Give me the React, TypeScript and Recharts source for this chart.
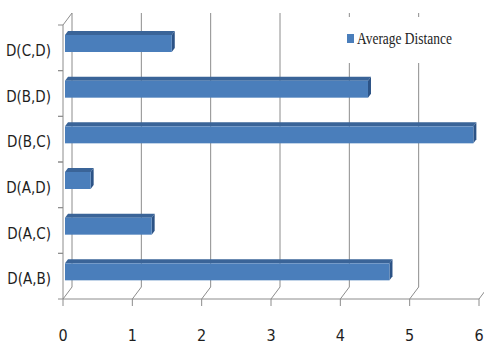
import React from 'react';
import { BarChart, Bar, XAxis, YAxis, CartesianGrid, Legend } from 'recharts';

// Pairwise distances, bottom to top on the category axis
const categories = ['D(A,B)', 'D(A,C)', 'D(A,D)', 'D(B,C)', 'D(B,D)', 'D(C,D)'];
const averageDistance = [4.68, 1.25, 0.37, 5.89, 4.37, 1.54];
const xTicks = [0, 1, 2, 3, 4, 5, 6];
const seriesName = 'Average Distance';

const data = categories.map((name, i) => ({ name, value: averageDistance[i] }));

// Layout of the front plane and the 3D depth offsets
const CHART_W = 484;
const CHART_H = 345;
const PLOT_LEFT = 63;
const PLOT_TOP = 25;
const PLOT_BOTTOM = 299;
const DEPTH_X = 9;
const DEPTH_Y = 12;
const BAR_DX = 2;
const BAR_DY = -4;
const TOP_DX = 3;
const TOP_DY = 4;
const BAND = (PLOT_BOTTOM - PLOT_TOP) / categories.length;

const FRONT = '#4a7ebb';
const TOP = '#3a6498';
const SIDE = '#2c5386';
const LINE = '#8c8c8c';
const TEXT = '#1e1e1e';
const SANS = "'Liberation Sans Narrow', 'DejaVu Sans Condensed', 'Liberation Sans', sans-serif";
const SERIF = "'Liberation Serif', 'DejaVu Serif', serif";

// Bar with a front face, a darker top face and a darker end cap
const Bar3D = (props: any) => {
  const { x, y, width, height } = props;
  if (width == null || height == null) return null;
  const fx = x + BAR_DX;
  const fy = y + BAR_DY;
  const ex = fx + width;
  return (
    <g>
      <polygon
        points={`${fx},${fy} ${ex},${fy} ${ex + TOP_DX},${fy - TOP_DY} ${fx + TOP_DX},${fy - TOP_DY}`}
        fill={TOP}
      />
      <polygon
        points={`${ex},${fy} ${ex + TOP_DX},${fy - TOP_DY} ${ex + TOP_DX},${fy + height - TOP_DY} ${ex},${fy + height}`}
        fill={SIDE}
      />
      <rect x={fx} y={fy} width={width} height={height} fill={FRONT} />
    </g>
  );
};

// Floor diagonal plus back-wall line for every value tick
const wallLine = (p: any) => {
  const { x1 } = p;
  return (
    <g key={p.key ?? `wall-${x1}`}>
      <line x1={x1} y1={PLOT_BOTTOM} x2={x1 + DEPTH_X} y2={PLOT_BOTTOM - DEPTH_Y} stroke={LINE} strokeWidth={1} />
      <line
        x1={x1 + DEPTH_X}
        y1={PLOT_BOTTOM - DEPTH_Y}
        x2={x1 + DEPTH_X}
        y2={PLOT_TOP - DEPTH_Y}
        stroke={LINE}
        strokeWidth={1}
      />
      {Math.abs(x1 - PLOT_LEFT) < 1 && (
        <line x1={x1} y1={PLOT_TOP} x2={x1 + DEPTH_X} y2={PLOT_TOP - DEPTH_Y} stroke={LINE} strokeWidth={1} />
      )}
    </g>
  );
};

const XTick = (p: any) => (
  <text x={p.x} y={341} textAnchor="middle" fontFamily={SANS} fontSize={16} fill={TEXT}>
    {p.payload.value}
  </text>
);

const YTick = (p: any) => {
  const { y, payload } = p;
  return (
    <g>
      <line x1={PLOT_LEFT - 5} x2={PLOT_LEFT} y1={y - BAND / 2} y2={y - BAND / 2} stroke={LINE} />
      <line x1={PLOT_LEFT - 5} x2={PLOT_LEFT} y1={y + BAND / 2} y2={y + BAND / 2} stroke={LINE} />
      <text x={51} y={y + 8} textAnchor="end" fontFamily={SANS} fontSize={15} fill={TEXT}>
        {payload.value}
      </text>
    </g>
  );
};

const LegendBox = () => (
  <svg width={122} height={46} style={{ display: 'block' }}>
    <rect x={0} y={0} width={122} height={46} fill="#ffffff" />
    <rect x={5} y={17} width={7} height={9} fill={FRONT} />
    <text transform="translate(15,27) scale(0.84,1)" fontFamily={SERIF} fontSize={16} fill={TEXT}>
      {seriesName}
    </text>
  </svg>
);

export default function App() {
  return (
    <div style={{ position: 'absolute', left: 0, top: 0, background: '#fff' }}>
      <BarChart
        width={CHART_W}
        height={CHART_H}
        data={data}
        layout="vertical"
        margin={{ top: PLOT_TOP, right: CHART_W - 479, bottom: 6, left: 0 }}
      >
        <CartesianGrid horizontal={false} vertical={wallLine} />
        <XAxis
          type="number"
          domain={[0, 6]}
          ticks={xTicks}
          interval={0}
          height={40}
          axisLine={{ stroke: LINE }}
          tickLine={{ stroke: LINE }}
          tickSize={7}
          tick={XTick}
        />
        <YAxis
          type="category"
          dataKey="name"
          reversed
          width={PLOT_LEFT}
          axisLine={{ stroke: LINE }}
          tickLine={false}
          interval={0}
          tick={YTick}
        />
        <Legend
          layout="horizontal"
          align="center"
          verticalAlign="middle"
          wrapperStyle={{ left: 342, top: 17, width: 122, height: 46 }}
          content={() => <LegendBox />}
        />
        <Bar dataKey="value" name={seriesName} barSize={17} shape={Bar3D} isAnimationActive={false} />
      </BarChart>
    </div>
  );
}
